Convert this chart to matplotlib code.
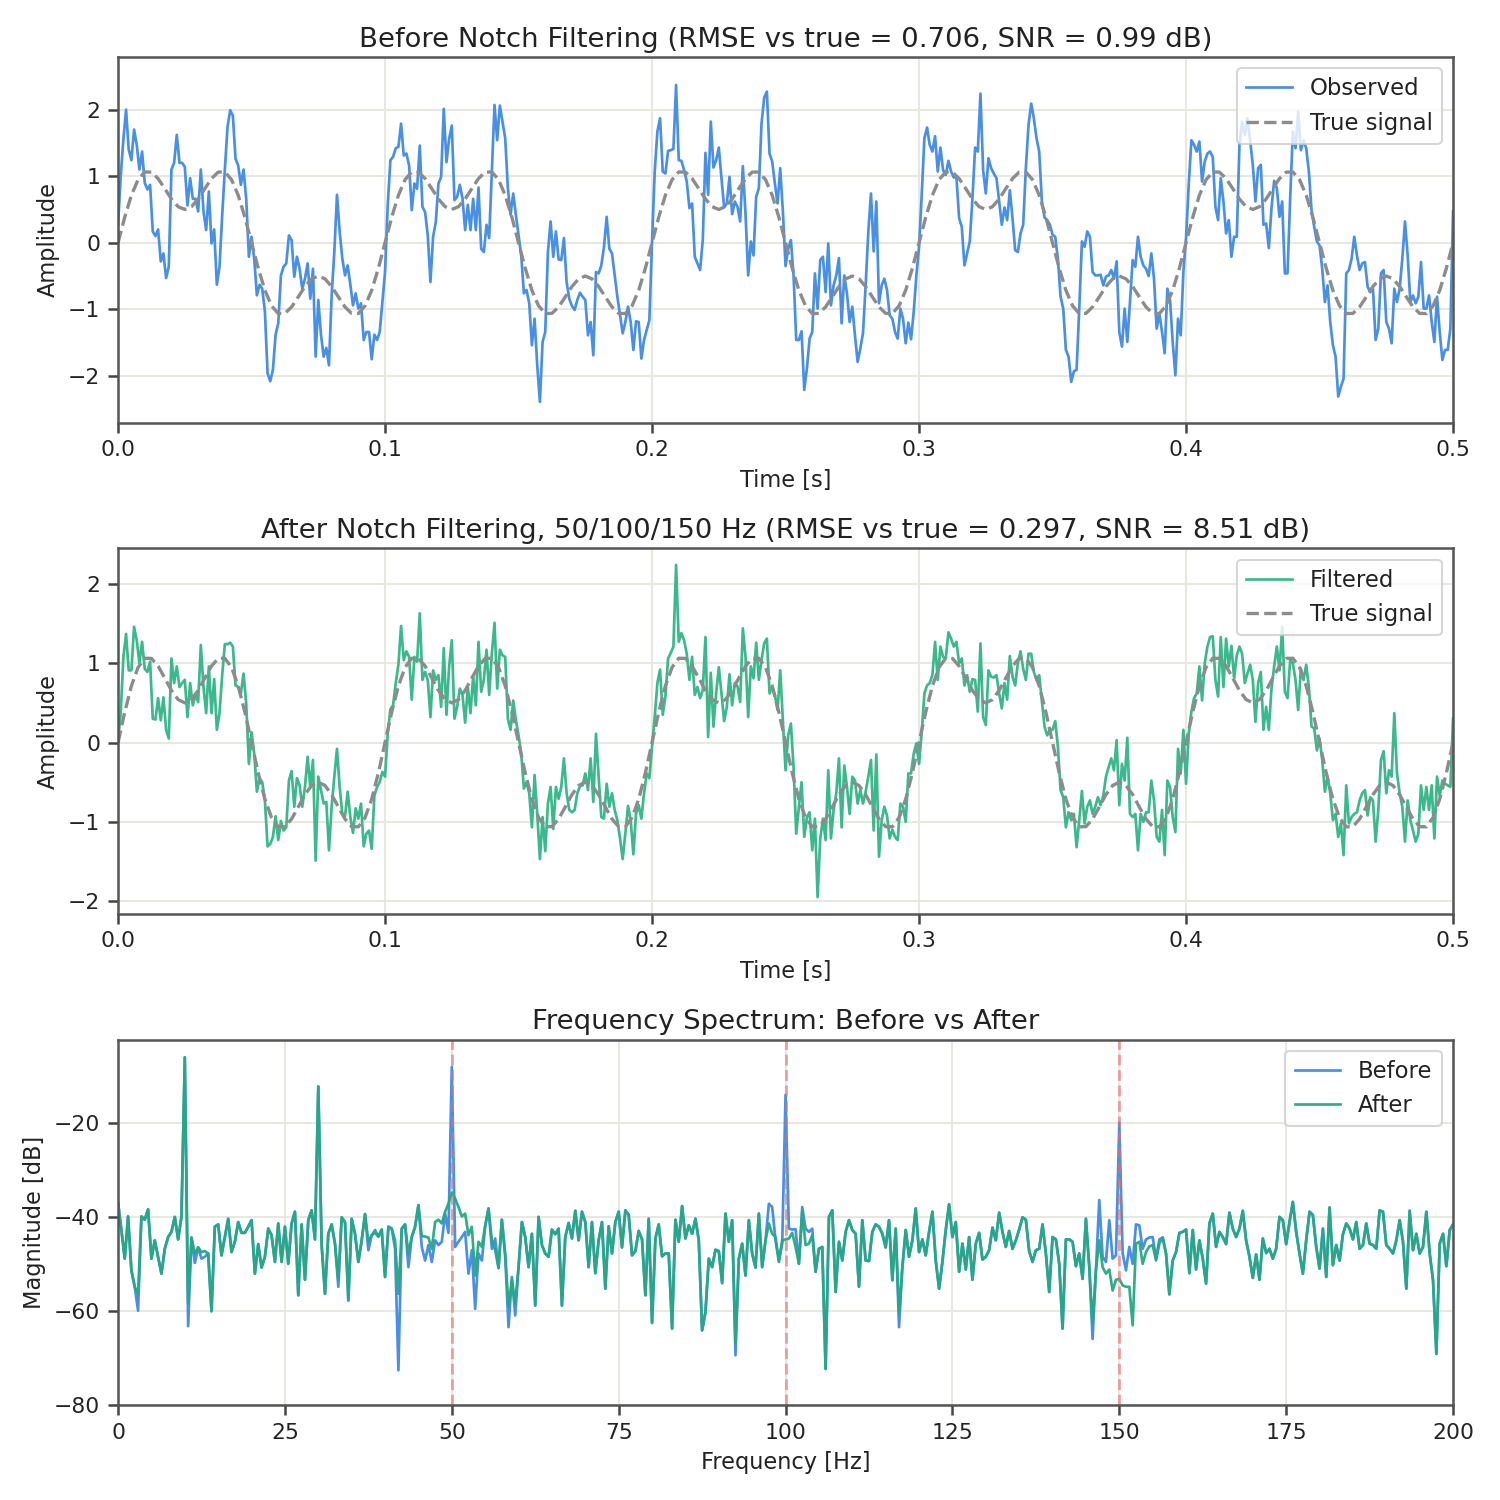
import numpy as np
import matplotlib
matplotlib.use("Agg")
import matplotlib.pyplot as plt

# ---- data ----
# observed (blue) signal, one value per ms, 0..500 ms
observed = [
    0.27, 1.0, 1.55, 2.0, 1.4, 1.24, 1.7, 1.47, 1.1, 1.37,
    0.9, 0.8, 0.87, 0.17, 0.1, 0.2, -0.28, -0.16, -0.53, -0.36,
    1.1, 1.2, 1.62, 1.2, 1.2, 1.14, 0.56, 0.97, 0.66, 0.66,
    0.47, 1.1, 0.47, 0.19, 0.77, -0.01, 0.2, -0.63, -0.36, 0.41,
    1.1, 1.74, 1.99, 1.91, 1.26, 1.16, 0.87, 1.1, 0.66, -0.21,
    0.09, -0.24, -0.79, -0.63, -0.69, -1.03, -1.96, -2.08, -1.91, -1.38,
    -1.21, -0.49, -0.36, -0.31, 0.11, 0.04, -0.51, -0.21, -0.39, -0.69,
    -0.54, -0.31, -0.84, -0.39, -1.71, -0.86, -1.38, -1.71, -1.58, -1.84,
    -0.79, -0.14, 0.72, 0.17, -0.24, -0.49, -0.34, -0.63, -0.94, -0.76,
    -0.99, -0.91, -1.46, -1.34, -1.34, -1.75, -1.38, -1.46, -1.34, -0.89,
    -0.44, 0.56, 1.24, 1.29, 1.42, 1.44, 1.79, 1.31, 1.34, 1.16,
    0.49, 0.89, 0.81, 1.46, 0.54, 0.46, 0.11, -0.59, 0.09, 0.31,
    0.89, 0.99, 2.01, 1.21, 1.56, 1.76, 0.64, 0.69, 0.87, 0.67,
    0.19, 0.57, 0.19, 0.66, 0.19, 0.83, -0.09, -0.14, 0.27, 0.07,
    1.07, 2.07, 1.54, 2.06, 1.82, 1.57, 0.82, 0.42, 0.74, 0.42,
    0.12, -0.19, -0.76, -0.71, -0.91, -1.54, -1.14, -1.84, -2.39, -1.49,
    -1.34, -0.14, 0.32, -0.21, 0.17, -0.25, -0.26, 0.07, -0.59, -0.84,
    -0.95, -1.01, -0.86, -0.75, -0.81, -0.86, -1.39, -1.19, -1.69, -0.44,
    -0.46, -0.34, -0.06, 0.39, -0.09, -0.16, -0.49, -0.81, -1.09, -1.36,
    -1.19, -0.96, -1.19, -1.61, -1.18, -1.19, -1.74, -1.46, -1.31, -1.16,
    0.02, 1.07, 1.67, 1.87, 1.07, 1.04, 1.38, 1.39, 1.41, 2.37,
    1.24, 1.23, 1.09, 0.92, 0.52, 0.59, -0.21, -0.31, -0.41, 0.04,
    1.35, 0.72, 1.82, 1.13, 1.24, 1.43, 0.97, 0.53, 0.59, 0.99,
    0.43, 0.62, 0.54, 0.32, 1.15, 0.44, -0.49, 0.02, -0.19, 0.69,
    0.82, 1.79, 2.18, 2.27, 1.34, 1.22, 0.89, 0.59, 1.12, 0.47,
    -0.35, -0.09, 0.04, -0.49, -1.46, -1.46, -1.33, -2.21, -1.89, -1.44,
    -1.34, -0.46, -0.99, -0.26, -0.21, -0.74, -0.01, -0.94, -0.64, -0.49,
    -0.23, -1.21, -0.49, -0.76, -1.19, -0.96, -1.39, -1.79, -1.59, -1.36,
    -0.64, 0.17, 0.74, -0.13, 0.62, -0.91, -0.64, -0.54, -0.71, -1.09,
    -1.14, -1.34, -1.44, -0.99, -1.14, -1.51, -1.2, -1.45, -1.04, -0.49,
    -0.06, 0.72, 1.57, 1.73, 1.47, 1.37, 1.6, 1.07, 1.43, 1.09,
    1.02, 1.23, 1.07, 0.98, 0.99, 0.37, 0.24, -0.34, -0.16, 0.02,
    0.67, 1.43, 1.37, 2.24, 1.09, 0.74, 1.27, 1.12, 1.04, 0.97,
    0.62, 0.27, 0.53, 0.34, 0.79, 0.37, -0.11, -0.14, 0.14, 0.27,
    1.12, 1.77, 2.09, 1.87, 1.57, 1.37, 0.62, 0.38, 0.34, 0.27,
    0.12, 0.09, -0.24, -0.81, -0.99, -1.61, -1.71, -2.09, -1.93, -1.91,
    -0.99, 0.02, -0.06, 0.17, 0.09, -0.44, -0.49, -0.49, -0.48, -0.64,
    -0.51, -0.49, -0.41, -0.54, -0.28, -1.34, -1.56, -0.99, -1.49, -0.89,
    -0.26, -0.36, 0.09, -0.21, -0.34, -0.39, -0.5, -0.16, -0.54, -1.29,
    -1.06, -1.34, -1.66, -0.69, -0.86, -1.49, -1.99, -1.14, -1.39, -0.44,
    0.07, 0.87, 1.54, 1.47, 1.37, 1.52, 0.92, 1.22, 1.34, 1.37,
    1.29, 0.54, 0.34, 0.97, 0.62, 0.14, 0.34, -0.21, 0.09, 0.09,
    1.47, 1.82, 1.62, 1.87, 1.54, 1.17, 0.62, 1.12, 1.17, 0.27,
    0.29, -0.08, 0.52, 0.93, 0.82, 0.39, 0.62, -0.46, -0.46, 0.67,
    1.67, 1.42, 1.97, 1.39, 1.54, 1.42, 1.07, 0.49, 0.24, 0.02,
    -0.04, -0.39, -0.89, -0.64, -1.19, -1.54, -1.71, -2.31, -2.16, -2.04,
    -0.46, -0.41, -0.24, 0.09, -0.19, -0.41, -0.31, -0.29, -0.66, -0.74,
    -0.69, -1.46, -1.29, -0.46, -0.41, -1.19, -1.29, -1.51, -0.69, -0.89,
    -0.69, -0.24, 0.32, -0.19, -0.89, -0.79, -0.91, -0.81, -0.29, -0.99,
    -0.99, -0.79, -1.19, -1.49, -0.81, -1.34, -1.76, -1.61, -1.61, -1.29,
    0.47,
]

# notch-filtered (green) signal, one value per ms, 0..500 ms
filtered = [
    0.03, 0.37, 1.08, 1.37, 0.91, 0.91, 1.46, 1.29, 1.0, 1.27,
    0.93, 0.89, 1.02, 0.3, 0.29, 0.56, 0.28, 0.57, 0.16, 0.05,
    1.06, 0.75, 0.96, 0.7, 0.75, 0.79, 0.32, 0.75, 0.47, 0.6,
    0.51, 1.23, 0.7, 0.37, 0.96, 0.37, 0.8, 0.16, 0.37, 0.85,
    1.24, 1.24, 1.26, 1.21, 0.72, 0.7, 0.62, 0.87, 0.49, -0.27,
    0.13, -0.14, -0.62, -0.45, -0.5, -0.73, -1.31, -1.28, -1.19, -0.93,
    -1.23, -0.99, -1.11, -1.07, -0.48, -0.36, -0.81, -0.45, -0.54, -0.81,
    -0.56, -0.18, -0.56, -0.22, -1.49, -0.43, -0.6, -0.77, -0.75, -1.36,
    -0.81, -0.43, -0.08, -0.56, -0.9, -0.93, -0.62, -0.94, -1.14, -0.83,
    -0.96, -0.77, -1.31, -1.15, -1.11, -1.34, -0.67, -0.56, -0.5, -0.37,
    -0.43, 0.11, 0.42, 0.47, 0.75, 0.98, 1.47, 1.04, 1.15, 1.08,
    0.54, 1.08, 1.02, 1.63, 0.79, 0.89, 0.79, 0.32, 0.91, 0.79,
    0.85, 0.45, 1.19, 0.35, 0.96, 1.29, 0.3, 0.45, 0.68, 0.6,
    0.25, 0.7, 0.37, 0.84, 0.47, 1.27, 0.64, 0.79, 1.17, 0.6,
    1.12, 1.51, 0.68, 1.17, 1.1, 1.08, 0.3, 0.16, 0.53, 0.28,
    0.09, -0.14, -0.58, -0.5, -0.64, -1.07, -0.41, -0.9, -1.47, -0.94,
    -1.37, -0.77, -0.56, -1.09, -0.56, -0.71, -0.56, -0.2, -0.64, -0.85,
    -0.88, -0.85, -0.64, -0.55, -0.54, -0.39, -0.6, -0.2, -0.75, 0.11,
    -0.43, -0.94, -0.96, -0.52, -0.81, -0.64, -0.85, -0.98, -1.21, -1.47,
    -1.15, -0.8, -0.98, -1.41, -0.9, -0.79, -0.96, -0.64, -0.39, -0.45,
    -0.05, 0.32, 0.75, 0.92, 0.35, 0.58, 1.06, 1.13, 1.21, 2.24,
    1.27, 1.38, 1.29, 1.12, 0.79, 1.08, 0.6, 0.7, 0.56, 0.66,
    1.33, 0.07, 0.88, 0.2, 0.62, 0.95, 0.62, 0.27, 0.45, 0.86,
    0.47, 0.75, 0.71, 0.51, 1.44, 1.08, 0.32, 0.96, 0.81, 1.26,
    0.79, 1.04, 1.25, 1.31, 0.62, 0.7, 0.6, 0.41, 0.91, 0.28,
    -0.35, 0.09, 0.24, -0.31, -1.15, -0.81, -0.5, -1.19, -0.94, -0.88,
    -1.36, -0.96, -1.95, -1.21, -0.96, -1.23, -0.35, -1.21, -0.85, -0.64,
    -0.2, -1.07, -0.29, -0.56, -0.9, -0.43, -0.48, -0.77, -0.6, -0.77,
    -0.62, -0.43, -0.22, -1.11, -0.15, -1.44, -0.98, -0.81, -0.92, -1.21,
    -1.1, -1.19, -1.23, -0.77, -0.81, -1.0, -0.39, -0.39, -0.14, -0.01,
    -0.27, 0.13, 0.62, 0.72, 0.75, 0.85, 1.27, 0.79, 1.21, 1.08,
    1.06, 1.39, 1.31, 1.21, 1.27, 1.0, 1.06, 0.72, 0.85, 0.64,
    0.8, 0.79, 0.39, 1.25, 0.32, 0.22, 0.91, 0.83, 0.82, 0.85,
    0.62, 0.43, 0.75, 0.54, 1.09, 0.83, 0.72, 1.0, 1.15, 0.93,
    0.79, 1.12, 1.12, 0.89, 0.79, 0.85, 0.53, 0.2, 0.09, 0.16,
    0.16, 0.27, -0.05, -0.6, -0.69, -1.07, -0.88, -0.98, -0.9, -1.32,
    -0.98, -0.61, -1.02, -0.81, -0.73, -0.9, -0.81, -0.69, -0.79, -0.67,
    -0.43, -0.31, -0.2, -0.35, 0.03, -0.79, -0.27, -0.48, 0.06, -0.9,
    -0.94, -0.9, -1.36, -0.9, -1.0, -0.88, -0.88, -0.48, -0.73, -1.19,
    -1.25, -0.85, -1.42, -0.48, -0.56, -0.94, -1.13, -0.08, -0.39, 0.16,
    -0.52, 0.11, 0.39, 0.56, 0.62, 0.96, 0.53, 1.0, 1.21, 1.33,
    1.34, 0.79, 0.58, 1.33, 0.7, 1.31, 0.96, 1.22, 0.81, 1.1,
    1.21, 1.12, 0.75, 0.87, 0.98, 0.79, 0.26, 0.75, 0.89, 0.16,
    0.45, 0.16, 0.68, 0.96, 1.21, 0.91, 1.46, 0.64, 0.56, 1.04,
    1.0, 0.79, 0.41, 0.93, 0.79, 0.98, 0.7, 0.2, 0.18, -0.1,
    0.05, -0.22, -0.62, -0.43, -0.64, -0.98, -0.9, -1.19, -1.02, -1.42,
    -0.54, -1.02, -0.94, -0.9, -0.88, -0.73, -0.64, -0.6, -0.92, -0.69,
    -0.73, -1.25, -0.85, -0.22, -0.11, -0.64, -0.35, -0.43, 0.37, -0.39,
    -0.64, -0.81, -1.25, -0.73, -0.98, -1.11, -1.25, -1.15, -0.54, -0.85,
    -0.56, -0.85, -0.54, -1.21, -0.43, -0.67, -0.48, -0.52, -0.54, -0.56,
    0.3,
]

# true (dashed) signal, one value per 2.5 ms, 0..500 ms
true_signal = [
    0.0, 0.383, 0.714, 0.948, 1.063, 1.061, 0.964, 0.813, 0.657, 0.542,
    0.5, 0.542, 0.657, 0.813, 0.964, 1.061, 1.063, 0.948, 0.714, 0.383,
    0.0, -0.383, -0.714, -0.948, -1.063, -1.061, -0.964, -0.813, -0.657, -0.542,
    -0.5, -0.542, -0.657, -0.813, -0.964, -1.061, -1.063, -0.948, -0.714, -0.383,
    0.0, 0.383, 0.714, 0.948, 1.063, 1.061, 0.964, 0.813, 0.657, 0.542,
    0.5, 0.542, 0.657, 0.813, 0.964, 1.061, 1.063, 0.948, 0.714, 0.383,
    0.0, -0.383, -0.714, -0.948, -1.063, -1.061, -0.964, -0.813, -0.657, -0.542,
    -0.5, -0.542, -0.657, -0.813, -0.964, -1.061, -1.063, -0.948, -0.714, -0.383,
    0.0, 0.383, 0.714, 0.948, 1.063, 1.061, 0.964, 0.813, 0.657, 0.542,
    0.5, 0.542, 0.657, 0.813, 0.964, 1.061, 1.063, 0.948, 0.714, 0.383,
    0.0, -0.383, -0.714, -0.948, -1.063, -1.061, -0.964, -0.813, -0.657, -0.542,
    -0.5, -0.542, -0.657, -0.813, -0.964, -1.061, -1.063, -0.948, -0.714, -0.383,
    0.0, 0.383, 0.714, 0.948, 1.063, 1.061, 0.964, 0.813, 0.657, 0.542,
    0.5, 0.542, 0.657, 0.813, 0.964, 1.061, 1.063, 0.948, 0.714, 0.383,
    0.0, -0.383, -0.714, -0.948, -1.063, -1.061, -0.964, -0.813, -0.657, -0.542,
    -0.5, -0.542, -0.657, -0.813, -0.964, -1.061, -1.063, -0.948, -0.714, -0.383,
    0.0, 0.383, 0.714, 0.948, 1.063, 1.061, 0.964, 0.813, 0.657, 0.542,
    0.5, 0.542, 0.657, 0.813, 0.964, 1.061, 1.063, 0.948, 0.714, 0.383,
    0.0, -0.383, -0.714, -0.948, -1.063, -1.061, -0.964, -0.813, -0.657, -0.542,
    -0.5, -0.542, -0.657, -0.813, -0.964, -1.061, -1.063, -0.948, -0.714, -0.383,
    0.0,
]

# spectrum after filtering [dB], every 0.5 Hz from 0 to 200 Hz
after_db = [
    -37.0, -42.8, -48.9, -39.9, -51.4, -54.9, -56.5, -39.9, -40.6, -38.4,
    -48.9, -45.0, -48.5, -52.1, -46.8, -44.3, -43.2, -40.0, -44.8, -40.0,
    -6.0, -58.5, -44.4, -47.8, -46.5, -47.5, -47.3, -47.8, -60.1, -42.1,
    -41.6, -48.2, -44.3, -40.4, -47.5, -45.3, -41.1, -43.4, -43.4, -42.1,
    -40.7, -52.1, -45.8, -50.8, -48.5, -42.5, -43.9, -49.6, -41.4, -49.6,
    -42.1, -50.0, -41.4, -38.9, -56.7, -41.6, -53.4, -40.7, -38.6, -44.8,
    -12.2, -46.0, -56.4, -43.6, -41.6, -45.7, -53.5, -40.1, -41.1, -57.8,
    -40.4, -43.6, -49.6, -45.0, -39.4, -45.3, -43.9, -43.4, -44.2, -42.7,
    -52.8, -42.1, -42.5, -45.0, -56.4, -42.5, -41.6, -47.8, -44.3, -42.1,
    -37.5, -44.1, -44.2, -44.4, -46.8, -41.1, -40.6, -41.4, -38.9, -37.2,
    -34.8, -36.1, -37.9, -39.9, -39.3, -43.9, -42.1, -52.5, -45.3, -46.4,
    -41.8, -38.2, -45.0, -47.1, -50.9, -40.6, -47.8, -59.2, -53.5, -58.5,
    -50.7, -41.1, -44.3, -50.7, -43.6, -58.9, -40.0, -46.0, -47.8, -48.5,
    -42.7, -43.7, -42.5, -58.9, -44.3, -41.3, -44.6, -38.7, -45.0, -38.9,
    -41.1, -50.7, -41.1, -52.0, -45.0, -41.1, -55.3, -42.0, -47.8, -41.1,
    -38.9, -46.5, -38.6, -39.6, -48.2, -47.3, -43.0, -44.8, -56.7, -40.4,
    -62.6, -44.6, -41.6, -48.4, -47.8, -47.8, -63.8, -40.6, -45.3, -37.7,
    -44.6, -41.8, -43.6, -40.4, -45.0, -64.2, -60.3, -48.9, -50.7, -47.0,
    -47.3, -54.1, -39.3, -45.3, -40.7, -67.0, -48.9, -45.7, -52.5, -40.7,
    -47.8, -50.8, -39.3, -50.7, -45.0, -41.4, -43.6, -44.3, -49.6, -45.0,
    -44.8, -44.6, -43.4, -46.4, -50.0, -38.9, -46.0, -45.7, -43.9, -51.7,
    -46.8, -46.4, -72.4, -40.0, -38.6, -56.0, -45.3, -49.3, -43.2, -40.7,
    -42.8, -43.6, -54.9, -40.7, -49.3, -49.4, -43.2, -41.6, -42.1, -43.6,
    -46.5, -40.7, -53.5, -42.5, -60.6, -50.7, -42.8, -48.5, -45.0, -38.2,
    -47.5, -44.8, -48.2, -43.2, -38.9, -49.3, -55.3, -49.6, -42.8, -37.3,
    -44.3, -41.1, -51.7, -45.7, -51.2, -44.3, -53.4, -45.7, -43.4, -49.1,
    -48.5, -47.1, -42.3, -45.0, -39.1, -43.2, -46.4, -43.0, -46.8, -45.0,
    -42.7, -40.1, -40.6, -47.3, -49.6, -47.1, -46.8, -41.6, -47.8, -56.0,
    -44.3, -44.8, -50.0, -63.8, -44.8, -44.8, -45.3, -50.5, -47.8, -53.2,
    -40.4, -50.7, -62.8, -51.4, -45.0, -50.7, -52.1, -51.2, -55.7, -53.4,
    -53.2, -54.6, -54.9, -54.9, -63.1, -45.7, -45.3, -50.0, -47.5, -46.3,
    -46.0, -49.3, -45.7, -44.4, -47.8, -56.5, -49.3, -47.5, -43.4, -43.2,
    -42.7, -52.0, -42.8, -51.2, -45.0, -48.9, -54.2, -41.4, -39.3, -46.4,
    -43.2, -44.3, -45.8, -39.1, -42.5, -44.3, -42.5, -38.7, -45.0, -48.5,
    -53.0, -48.0, -53.4, -44.6, -47.7, -46.8, -48.9, -46.8, -40.0, -40.7,
    -45.8, -41.1, -36.8, -43.2, -47.8, -52.1, -45.0, -38.9, -39.6, -46.4,
    -51.0, -42.5, -52.8, -38.0, -50.3, -46.0, -49.3, -43.7, -41.4, -42.5,
    -44.8, -41.1, -46.8, -46.0, -41.4, -45.7, -46.0, -46.8, -38.6, -38.9,
    -46.0, -46.8, -47.8, -45.0, -40.7, -45.3, -55.3, -38.7, -47.1, -43.6,
    -47.8, -46.4, -38.9, -47.8, -53.5, -69.2, -45.7, -43.6, -50.5, -42.8,
    -41.6,
]

# bins where the unfiltered spectrum differs from the filtered one
before_freq = [
    3.0, 10.5, 11.5, 12.5, 13.0, 33.0, 37.5, 38.5, 41.5, 42.0, 43.5,
    45.5, 46.0, 46.5, 47.0, 47.5, 48.0, 48.5, 49.0, 49.5,
    50.0, 50.5, 51.0, 51.5, 52.0, 52.5, 53.0, 53.5, 54.0, 54.5, 55.0,
    56.0, 56.5, 58.0, 58.5, 59.0, 59.5, 92.5,
    97.5, 98.0, 98.5, 99.0, 99.5, 100.0, 100.5, 101.0, 101.5, 102.0,
    102.5, 103.0, 103.5, 104.0, 117.0,
    146.0, 146.5, 147.0, 147.5, 148.0, 148.5, 149.0, 149.5, 150.0,
    150.5, 151.0, 151.5, 152.0, 152.5, 153.0, 153.5, 154.0, 154.5,
    155.0, 155.5, 156.0,
]
before_vals = [
    -60.0, -63.3, -49.8, -48.9, -48.5, -54.9, -47.1, -42.8, -46.8, -72.7, -50.7,
    -46.4, -49.3, -46.0, -49.6, -45.0, -46.0, -45.3, -39.3, -43.4,
    -8.0, -46.4, -45.3, -44.3, -43.2, -52.1, -47.1, -59.6, -47.8, -49.3, -42.1,
    -46.8, -44.6, -48.5, -63.5, -52.8, -61.0, -69.5,
    -37.2, -37.9, -45.0, -49.3, -45.7, -14.0, -42.5, -42.7, -42.6, -50.0,
    -37.9, -42.5, -43.2, -42.5, -63.5,
    -66.0, -51.4, -36.4, -48.5, -49.6, -40.7, -48.9, -48.2, -19.9,
    -47.8, -51.4, -46.4, -50.0, -41.6, -41.8, -46.8, -44.8, -44.4,
    -44.3, -48.9, -44.8,
]
notch_freqs = [50, 100, 150]

t_sig = np.arange(len(observed)) / 1000.0
t_filt = np.arange(len(filtered)) / 1000.0
t_true = np.arange(len(true_signal)) * 0.0025
freqs = np.arange(len(after_db)) * 0.5
before_db = list(after_db)
for f, v in zip(before_freq, before_vals):
    before_db[int(round(f * 2))] = v

# ---- style ----
blue = "#4A90E2"
green = "#3CB98C"
green_dark = "#25A982"
gray = "#8C8C8C"
plt.rcParams.update({
    "font.family": "DejaVu Sans",
    "axes.edgecolor": "#555555",
    "axes.linewidth": 1.2,
    "axes.labelcolor": "#222222",
    "text.color": "#222222",
    "xtick.color": "#444444",
    "ytick.color": "#444444",
    "xtick.labelcolor": "#222222",
    "ytick.labelcolor": "#222222",
    "xtick.major.size": 5,
    "ytick.major.size": 5,
    "xtick.major.width": 1.2,
    "ytick.major.width": 1.2,
    "xtick.labelsize": 10.5,
    "ytick.labelsize": 10.5,
    "axes.labelsize": 10.8,
    "axes.titlesize": 13.2,
    "axes.titlepad": 5.0,
    "legend.fontsize": 10.9,
    "grid.color": "#E8E8E3",
    "grid.linewidth": 1.0,
})

fig, axes = plt.subplots(3, 1, figsize=(10, 10))
fig.subplots_adjust(left=0.0787, right=0.9687, top=0.962, bottom=0.0633, hspace=0.344)

ax = axes[0]
ax.plot(t_sig, observed, color=blue, lw=1.3, label="Observed")
ax.plot(t_true, true_signal, color=gray, lw=1.6, ls="--", label="True signal")
ax.set_xlim(0, 0.5)
ax.set_ylim(-2.70, 2.79)
ax.set_title("Before Notch Filtering (RMSE vs true = 0.706, SNR = 0.99 dB)")
ax.set_xlabel("Time [s]")
ax.set_ylabel("Amplitude")

ax = axes[1]
ax.plot(t_filt, filtered, color=green, lw=1.3, label="Filtered")
ax.plot(t_true, true_signal, color=gray, lw=1.6, ls="--", label="True signal")
ax.set_xlim(0, 0.5)
ax.set_ylim(-2.16, 2.45)
ax.set_title("After Notch Filtering, 50/100/150 Hz (RMSE vs true = 0.297, SNR = 8.51 dB)")
ax.set_xlabel("Time [s]")
ax.set_ylabel("Amplitude")

ax = axes[2]
ax.plot(freqs, before_db, color=blue, lw=1.3, label="Before")
ax.plot(freqs, after_db, color=green_dark, lw=1.3, alpha=0.95, label="After")
for nf in notch_freqs:
    ax.axvline(nf, color="#E07070", ls="--", lw=1.4, alpha=0.6)
ax.set_xlim(0, 200)
ax.set_ylim(-80.1, -2.2)
ax.set_xticks(np.arange(0, 201, 25))
ax.set_yticks([-80, -60, -40, -20])
ax.set_title("Frequency Spectrum: Before vs After")
ax.set_xlabel("Frequency [Hz]")
ax.set_ylabel("Magnitude [dB]")

for ax in axes:
    ax.grid(True)
    ax.set_axisbelow(True)
    leg = ax.legend(loc="upper right", frameon=True, fancybox=True)
    leg.get_frame().set_edgecolor("#CCCCCC")

fig.savefig("out.png", dpi=150)
